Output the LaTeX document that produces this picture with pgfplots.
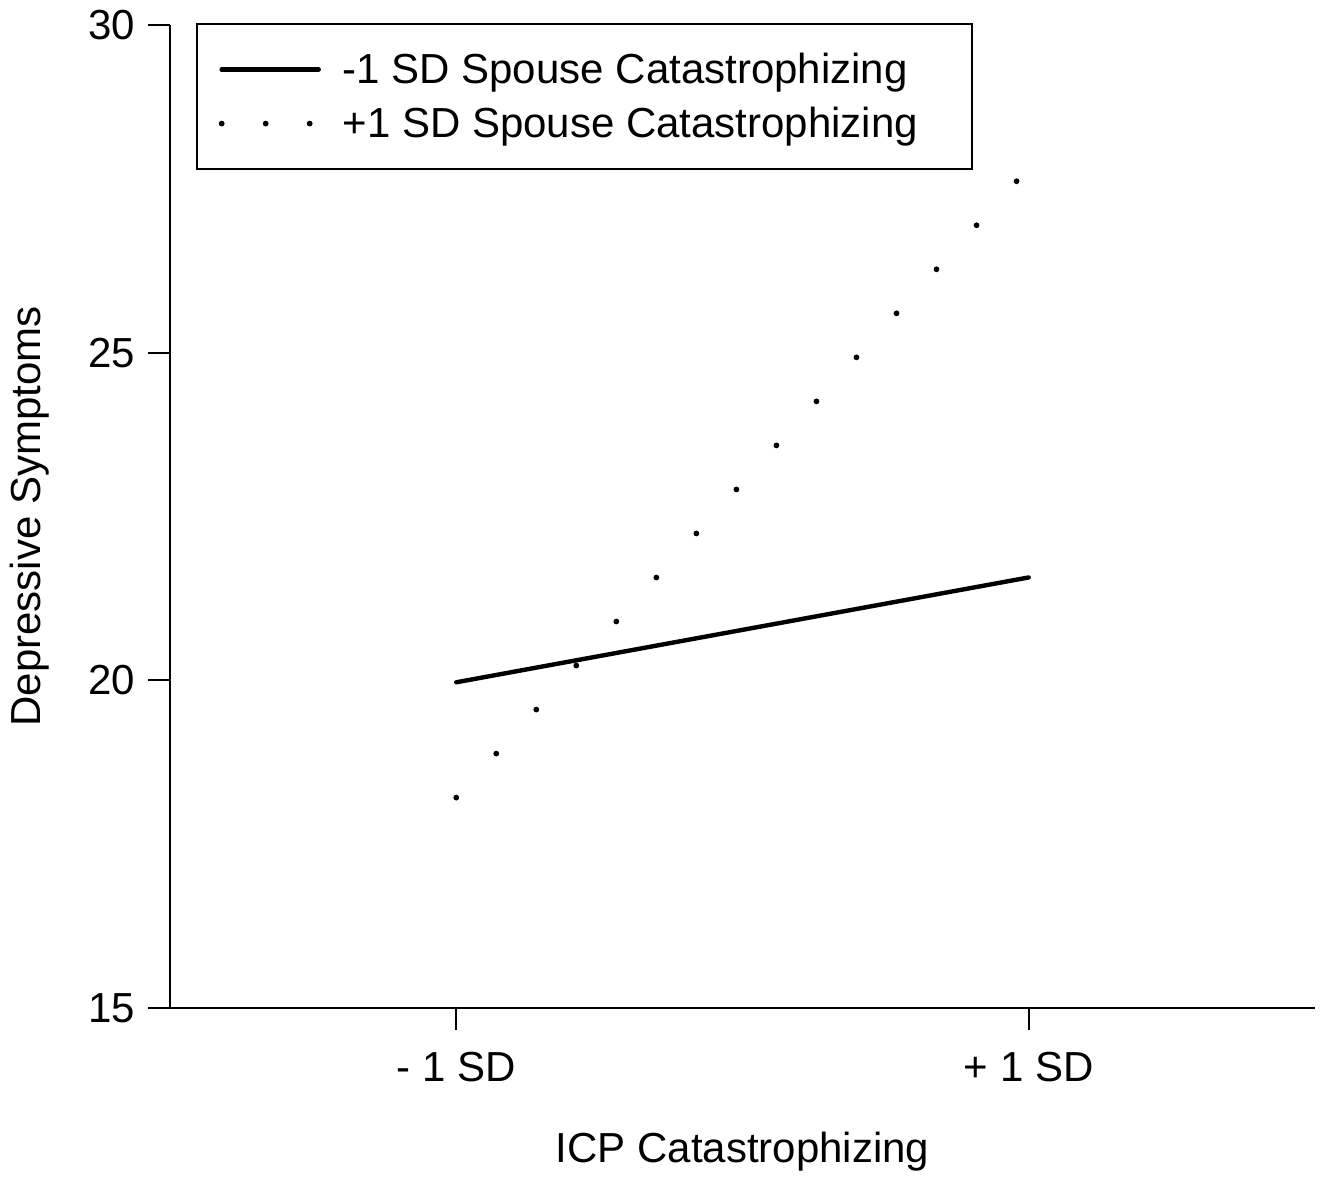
\documentclass[border=0pt]{standalone}
\usepackage{pgfplots}
\pgfplotsset{compat=1.18}
\usepackage{fontspec}
\setmainfont{Liberation Sans}

\begin{document}
\begin{tikzpicture}
\begin{axis}[
    name=ax,
    scale only axis,
    width=572.5pt, height=491.5pt,
    xmin=-2, xmax=2,
    ymin=15, ymax=30,
    axis lines=left,
    axis line style={-, line width=1pt},
    xtick={-1,1},
    xticklabels={- 1 SD, + 1 SD},
    ytick={15,20,25,30},
    tick align=outside,
    major tick length=11pt,
    tick style={line width=1pt, black},
    xticklabel style={yshift=-7.5pt},
    yticklabel style={xshift=-3pt},
    font=\fontsize{21}{25}\selectfont,
    /pgf/number format/assume math mode=true,
    xlabel={ICP Catastrophizing},
    ylabel={Depressive Symptoms},
    xlabel style={at={(axis description cs:0.5,-0.1465)}, anchor=center},
    ylabel style={at={(axis description cs:-0.1223,0.5)}, anchor=center},
    legend style={
        at={(axis description cs:0.0227,1.002)}, anchor=north west,
        draw=black, line width=0.8pt,
        inner xsep=11pt, inner ysep=14.5pt,
        row sep=10.3pt, column sep=10.5pt,
        nodes={inner sep=0pt},
        cells={anchor=west},
        font=\fontsize{21}{25}\selectfont,
    },
    legend image code/.code={\draw[#1] (0pt,0pt) -- (48.5pt,0pt);},
]
% -1 SD spouse
\addplot[black, line width=2.2pt, line cap=round] coordinates {
    (-1,19.97) (1,21.57)
};
% +1 SD spouse
\addplot[black, line width=2.9pt, line cap=round,
    dash pattern=on 0pt off 29.75pt,
    legend image code/.code={\draw[black, line width=2.9pt, line cap=round,
        dash pattern=on 0pt off 22pt] (0pt,0pt) -- (48.5pt,0pt);}]
    coordinates {
    (-1,18.21) (1,27.82)
};
\legend{-1 SD Spouse Catastrophizing, +1 SD Spouse Catastrophizing\rule{16pt}{0pt}}
\end{axis}
\path ([shift={(-85pt,-84.5pt)}]ax.south west) rectangle ([shift={(7pt,12.5pt)}]ax.north east);
\end{tikzpicture}
\end{document}
